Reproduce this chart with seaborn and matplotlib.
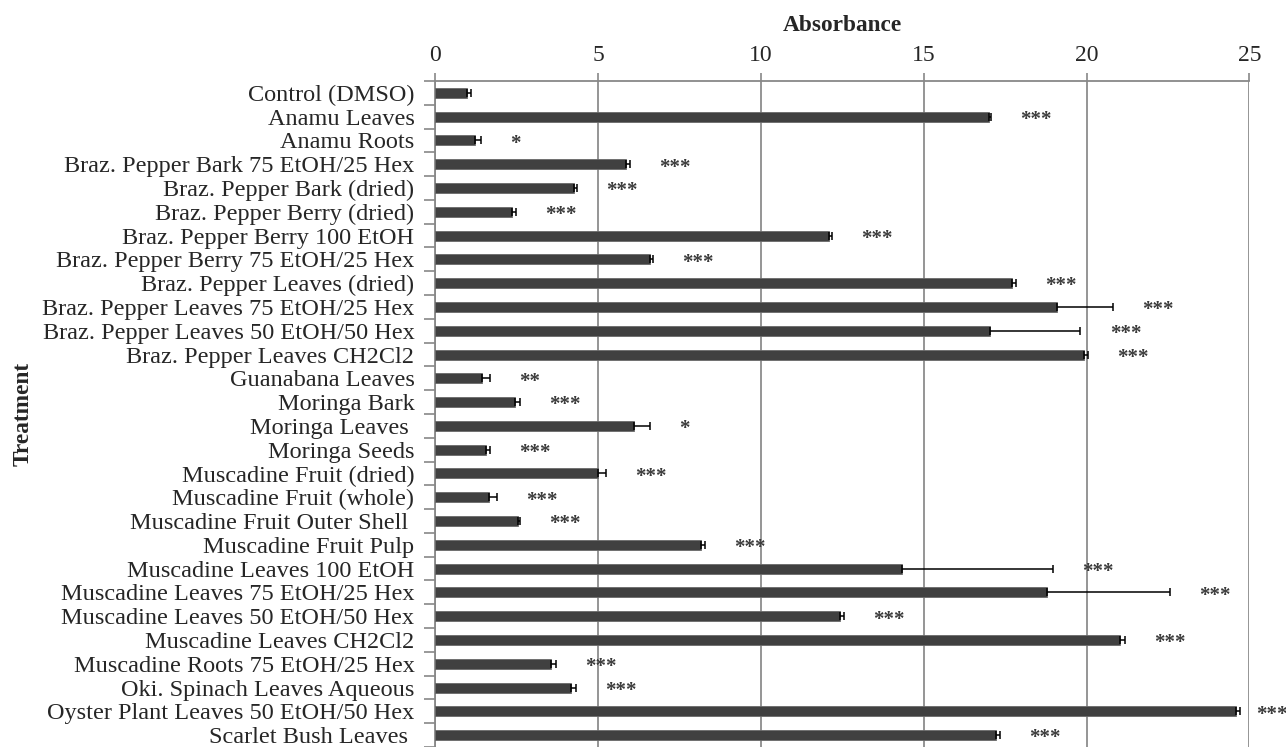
import numpy as np
import pandas as pd
import matplotlib
matplotlib.use('Agg')
import matplotlib.pyplot as plt
import seaborn as sns

treatments = [
    'Control (DMSO)', 'Anamu Leaves', 'Anamu Roots',
    'Braz. Pepper Bark 75 EtOH/25 Hex', 'Braz. Pepper Bark (dried)',
    'Braz. Pepper Berry (dried)', 'Braz. Pepper Berry 100 EtOH',
    'Braz. Pepper Berry 75 EtOH/25 Hex', 'Braz. Pepper Leaves (dried)',
    'Braz. Pepper Leaves 75 EtOH/25 Hex', 'Braz. Pepper Leaves 50 EtOH/50 Hex',
    'Braz. Pepper Leaves CH2Cl2', 'Guanabana Leaves', 'Moringa Bark',
    'Moringa Leaves ', 'Moringa Seeds', 'Muscadine Fruit (dried)',
    'Muscadine Fruit (whole)', 'Muscadine Fruit Outer Shell ',
    'Muscadine Fruit Pulp', 'Muscadine Leaves 100 EtOH',
    'Muscadine Leaves 75 EtOH/25 Hex', 'Muscadine Leaves 50 EtOH/50 Hex',
    'Muscadine Leaves CH2Cl2', 'Muscadine Roots 75 EtOH/25 Hex',
    'Oki. Spinach Leaves Aqueous', 'Oyster Plant Leaves 50 EtOH/50 Hex',
    'Scarlet Bush Leaves ',
]
absorbance = [0.96, 17.0, 1.21, 5.86, 4.27, 2.37, 12.1, 6.59, 17.71, 19.08,
              17.03, 19.93, 1.44, 2.46, 6.09, 1.57, 4.99, 1.64, 2.54, 8.15,
              14.34, 18.79, 12.43, 21.03, 3.56, 4.17, 24.6, 17.23]
errors = [0.13, 0.06, 0.18, 0.12, 0.08, 0.10, 0.08, 0.10, 0.13, 1.72,
          2.78, 0.12, 0.23, 0.13, 0.50, 0.10, 0.25, 0.26, 0.06, 0.13,
          4.62, 3.77, 0.13, 0.15, 0.15, 0.16, 0.10, 0.10]
significance = ['', '***', '*', '***', '***', '***', '***', '***', '***', '***',
                '***', '***', '**', '***', '*', '***', '***', '***', '***', '***',
                '***', '***', '***', '***', '***', '***', '***', '***']

df = pd.DataFrame({'Treatment': treatments, 'Absorbance': absorbance})

sns.set_style('white')
plt.rcParams['font.family'] = ['Liberation Serif', 'DejaVu Serif']

fig = plt.figure(figsize=(12.86, 7.47), dpi=100)
ax = fig.add_axes([0.3385, 0.0, 0.633, 0.8916])

sns.barplot(data=df, x='Absorbance', y='Treatment', orient='h', color='#404040',
            width=0.42, edgecolor='#6a6a6a', linewidth=0.6, saturation=1, ax=ax,
            zorder=3)

ypos = np.arange(len(treatments))
ax.errorbar(absorbance, ypos, xerr=[np.zeros(len(errors)), errors], fmt='none',
            ecolor='black', elinewidth=1.1, capsize=3.2, capthick=1.1, zorder=4)

# significance stars next to the error bars (kept inside the figure)
for i in range(len(treatments)):
    if significance[i]:
        xs = min(absorbance[i] + errors[i] + 0.9, 25.2)
        ax.text(xs, i + 0.14, significance[i], ha='left', va='center',
                fontsize=15, fontweight='bold', color='#3a3a3a', clip_on=False)

ax.set_xlim(0, 25)
ax.set_ylim(len(treatments) - 0.5, -0.5)
ax.xaxis.tick_top()
ax.xaxis.set_label_position('top')
ax.set_xticks([0, 5, 10, 15, 20, 25])
ax.tick_params(axis='x', labelsize=17, length=6, color='#888888', width=1.2,
               pad=5, top=True, bottom=False)
ax.grid(axis='x', color='#8c8c8c', linewidth=1.3, zorder=0)
ax.set_axisbelow(True)

# category labels at the bars, tick marks between them
ax.set_yticks(ypos)
ax.set_yticks(np.arange(-0.5, len(treatments), 1), minor=True)
ax.tick_params(axis='y', which='major', length=0, labelsize=17.5, pad=15)
ax.tick_params(axis='y', which='minor', length=8, color='#888888', width=1.2,
               left=True)

for side in ['right', 'bottom']:
    ax.spines[side].set_visible(False)
for side in ['top', 'left']:
    ax.spines[side].set_color('#888888')
    ax.spines[side].set_linewidth(1.3)

ax.set_xlabel('Absorbance', fontsize=16.8, fontweight='bold', labelpad=10)
ax.set_ylabel('Treatment', fontsize=16.8, fontweight='bold', labelpad=6)

fig.savefig('out.png', dpi=100)
